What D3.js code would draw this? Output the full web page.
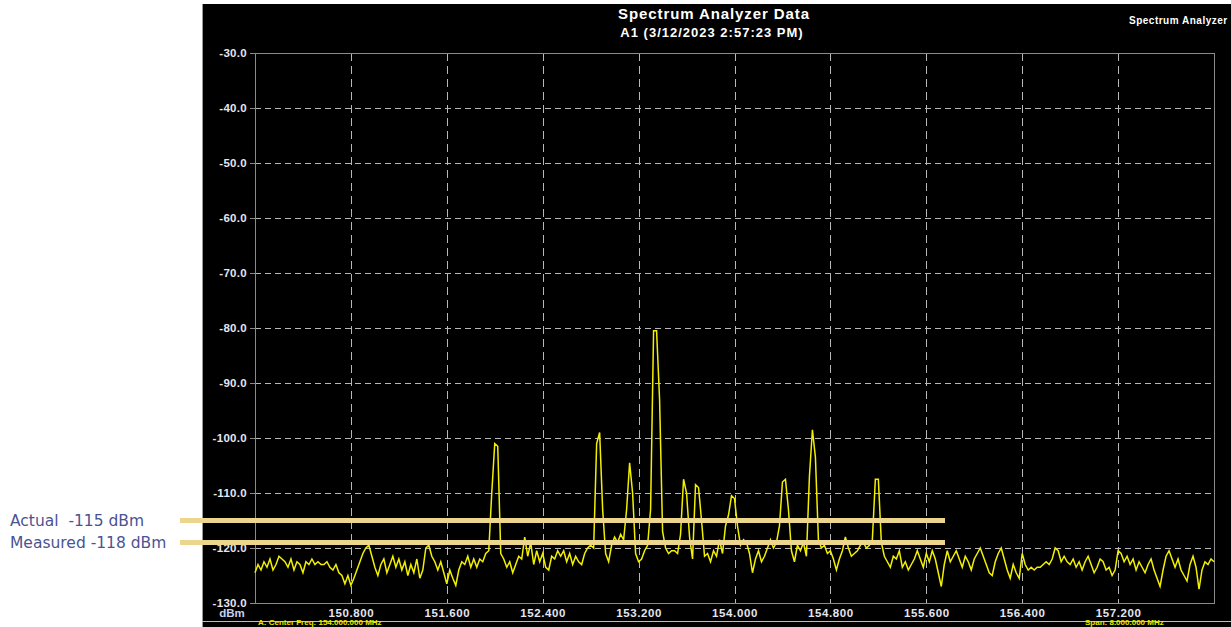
<!DOCTYPE html>
<html>
<head>
<meta charset="utf-8">
<script src="https://cdn.jsdelivr.net/npm/d3@7"></script>
<style>
  html, body { margin: 0; padding: 0; background: #fff; }
  svg { display: block; }
</style>
</head>
<body>
<svg id="chart" width="1231" height="627"></svg>
<script>
// frequency axis (MHz) and level axis (dBm)
const freqDomain = [150.0, 158.0]
const levelDomain = [-130, -30]
const freqTicks = [150.8, 151.6, 152.4, 153.2, 154.0, 154.8, 155.6, 156.4, 157.2]
const levelTicks = [-30, -40, -50, -60, -70, -80, -90, -100, -110, -120, -130]

// trace samples, one every 0.025 MHz starting at 150.000 MHz
const traceStart = 150.0
const traceStep = 0.025
const traceLevels = [
  -124.5, -123, -124, -122.5, -123.5, -122, -124, -123, -121.5, -122,
  -122.5, -123.5, -122, -124, -122.5, -123, -124.5, -122.5, -123, -122,
  -123, -122.5, -123, -123, -122.5, -123.5, -124, -123, -124.5, -125,
  -126.5, -125, -126.8, -125.5, -124, -122.5, -121, -120, -119.5, -121.5,
  -123.5, -125, -123, -122, -124.5, -123, -121.5, -123.5, -122, -124,
  -122.5, -125, -123, -124.5, -122, -125.5, -124, -120, -119.5, -121.5,
  -122.5, -124, -122.5, -124.5, -126.5, -124, -125.5, -126.8, -124, -122.5,
  -123, -121.5, -123.5, -122, -123.5, -122, -122.5, -121, -120.5, -110,
  -101, -101.5, -121, -122, -123.5, -122.5, -124.5, -123, -121.5, -122,
  -118, -121.5, -119, -123, -120.5, -122.5, -121, -123.5, -124, -121.5,
  -122, -120.5, -121.5, -120.5, -122.5, -121, -123, -121.5, -122.5, -123,
  -121, -120, -119.5, -120, -101, -99, -113, -121, -122.5, -119.5,
  -118, -119, -117.5, -118.5, -113, -104.5, -110, -121, -122.5, -122,
  -120.5, -119.5, -113, -80.5, -80.5, -93, -117, -120, -121, -120.5,
  -120.5, -121, -117.5, -107.5, -110, -118, -122, -108.5, -109, -115,
  -121.5, -121, -122.5, -120.5, -121.5, -118.5, -121, -116, -114, -110.5,
  -111, -116, -119.5, -118.5, -119, -121, -124.5, -122, -120.5, -122.5,
  -121.5, -120, -118.5, -120, -119, -116, -108, -107.5, -113, -120.5,
  -122.5, -119.5, -120.5, -119, -121.5, -107, -98.5, -103.5, -118.5, -120,
  -119.5, -121, -120.5, -122, -124, -122, -120.5, -118, -120, -121.5,
  -121, -120.5, -119.5, -119, -120, -119.5, -118.5, -107.5, -107.5, -119,
  -121.5, -122.5, -123.5, -121.5, -122, -120.5, -123.5, -122.5, -124, -123,
  -122, -120.5, -122, -123.5, -121, -122.5, -120.5, -122, -124.5, -127,
  -123, -120.5, -122.5, -121.5, -120.5, -122, -123.5, -121.5, -122.5, -124,
  -122, -121, -120, -121.5, -123, -124.5, -125, -122.5, -121, -120,
  -122, -124, -125.5, -123, -124.5, -125.5, -121, -123, -124, -123.5,
  -124, -123.5, -123.5, -123, -122.5, -123, -122, -120, -120.5, -122.5,
  -121.5, -122.5, -123, -122, -123.5, -122.5, -124, -122.5, -121.5, -123,
  -124.5, -123.5, -122, -122.5, -124, -123.5, -125, -124, -120.5, -121,
  -122.5, -121.5, -123, -122, -124, -122.5, -123.5, -124.5, -123, -122,
  -124, -125.5, -127, -124, -121.5, -120.5, -122, -123.5, -122, -124,
  -125, -126, -123, -121.5, -123.5, -127.5, -124, -122.5, -123, -122,
  -122.5
]

// overlay reference lines drawn over the plot
const markerLabels = ['Actual  -115 dBm', 'Measured -118 dBm']
const markerLevels = [-115, -119]

const svg = d3.select('#chart')
const W = 1231, H = 627
const plot = { left: 255, right: 1214, top: 53, bottom: 603 }
const uiFont = 'Liberation Sans, Arial, sans-serif'

// black instrument panel
svg.append('rect')
  .attr('x', 202).attr('y', 4)
  .attr('width', W - 202).attr('height', H - 4)
  .attr('fill', '#000')
svg.append('line')
  .attr('x1', 202.5).attr('x2', 202.5).attr('y1', 4).attr('y2', H)
  .attr('stroke', '#9a9a9a')

const x = d3.scaleLinear().domain(freqDomain).range([plot.left, plot.right])
const y = d3.scaleLinear().domain(levelDomain).range([plot.bottom, plot.top])

// grid
svg.append('g')
  .selectAll('line')
  .data(levelTicks.filter(d => d > -130 && d < -30))
  .join('line')
  .attr('x1', plot.left).attr('x2', plot.right)
  .attr('y1', d => Math.round(y(d)) + 0.5).attr('y2', d => Math.round(y(d)) + 0.5)
  .attr('stroke', '#b8b8b8')
  .attr('stroke-dasharray', '6,4')

svg.append('g')
  .selectAll('line')
  .data(freqTicks)
  .join('line')
  .attr('x1', d => Math.round(x(d)) + 0.5).attr('x2', d => Math.round(x(d)) + 0.5)
  .attr('y1', plot.top).attr('y2', plot.bottom)
  .attr('stroke', '#b8b8b8')
  .attr('stroke-dasharray', '8,5')

// frame
svg.append('rect')
  .attr('x', plot.left + 0.5).attr('y', plot.top + 0.5)
  .attr('width', plot.right - plot.left).attr('height', plot.bottom - plot.top)
  .attr('fill', 'none')
  .attr('stroke', '#8a8a8a')

// y axis labels + small ticks
const yAxis = d3.axisLeft(y)
  .tickValues(levelTicks)
  .tickSize(5)
  .tickPadding(3)
  .tickFormat(d => d.toFixed(1))
const gy = svg.append('g')
  .attr('transform', `translate(${plot.left},0)`)
  .call(yAxis)
gy.select('.domain').remove()
gy.selectAll('.tick line').attr('stroke', '#8a8a8a')
gy.selectAll('.tick text')
  .attr('fill', '#e4e6f0')
  .attr('font-family', uiFont)
  .attr('font-size', 11.5)
  .attr('font-weight', 'bold')
  .attr('letter-spacing', 0.3)

// x axis labels
const xAxis = d3.axisBottom(x)
  .tickValues(freqTicks)
  .tickSize(0)
  .tickPadding(6)
  .tickFormat(d => d.toFixed(3))
const gx = svg.append('g')
  .attr('transform', `translate(0,${plot.bottom})`)
  .call(xAxis)
gx.select('.domain').remove()
gx.selectAll('.tick text')
  .attr('fill', '#e4e6f0')
  .attr('font-family', uiFont)
  .attr('font-size', 11.5)
  .attr('font-weight', 'bold')
  .attr('letter-spacing', 0.6)

svg.append('text')
  .attr('x', 232).attr('y', 617)
  .attr('text-anchor', 'middle')
  .attr('fill', '#c9d0ea')
  .attr('font-family', uiFont)
  .attr('font-size', 11.5)
  .attr('font-weight', 'bold')
  .text('dBm')

// trace
const trace = traceLevels.map((v, i) => ({ f: traceStart + i * traceStep, v: v }))
const line = d3.line()
  .x(d => x(d.f))
  .y(d => y(d.v))
svg.append('path')
  .datum(trace)
  .attr('d', line)
  .attr('fill', 'none')
  .attr('stroke', '#f2f000')
  .attr('stroke-width', 1.5)

// titles
svg.append('text')
  .attr('x', 714).attr('y', 19)
  .attr('text-anchor', 'middle')
  .attr('fill', '#fff')
  .attr('font-family', uiFont)
  .attr('font-size', 15)
  .attr('font-weight', 'bold')
  .attr('letter-spacing', 0.9)
  .text('Spectrum Analyzer Data')
svg.append('text')
  .attr('x', 712).attr('y', 37)
  .attr('text-anchor', 'middle')
  .attr('fill', '#fff')
  .attr('font-family', uiFont)
  .attr('font-size', 13)
  .attr('font-weight', 'bold')
  .attr('letter-spacing', 1)
  .text('A1 (3/12/2023 2:57:23 PM)')
svg.append('text')
  .attr('x', 1129).attr('y', 24)
  .attr('fill', '#fff')
  .attr('font-family', uiFont)
  .attr('font-size', 10)
  .attr('font-weight', 'bold')
  .attr('letter-spacing', 0.5)
  .text('Spectrum Analyzer')

// bottom status line
svg.append('line')
  .attr('x1', 202).attr('x2', W).attr('y1', 621.5).attr('y2', 621.5)
  .attr('stroke', '#bdbdbd')
svg.append('text')
  .attr('x', 258).attr('y', 625)
  .attr('fill', '#e8e800')
  .attr('font-family', uiFont)
  .attr('font-size', 8)
  .attr('font-weight', 'bold')
  .text('A: Center Freq: 154.000.000 MHz')
svg.append('text')
  .attr('x', 1085).attr('y', 625)
  .attr('fill', '#e8e800')
  .attr('font-family', uiFont)
  .attr('font-size', 8)
  .attr('font-weight', 'bold')
  .text('Span: 8.000.000 MHz')

// overlay markers
const markers = markerLabels.map((l, i) => ({ label: l, level: markerLevels[i] }))
svg.append('g')
  .selectAll('line')
  .data(markers)
  .join('line')
  .attr('x1', 180).attr('x2', 945)
  .attr('y1', d => y(d.level)).attr('y2', d => y(d.level))
  .attr('stroke', '#ecd68e')
  .attr('stroke-width', 5)
svg.append('g')
  .selectAll('text')
  .data(markers)
  .join('text')
  .attr('x', 10)
  .attr('y', d => y(d.level) + 5)
  .attr('fill', '#4a5394')
  .attr('font-family', 'DejaVu Sans, Verdana, sans-serif')
  .attr('font-size', 15.5)
  .style('white-space', 'pre')
  .text(d => d.label)
</script>
</body>
</html>
